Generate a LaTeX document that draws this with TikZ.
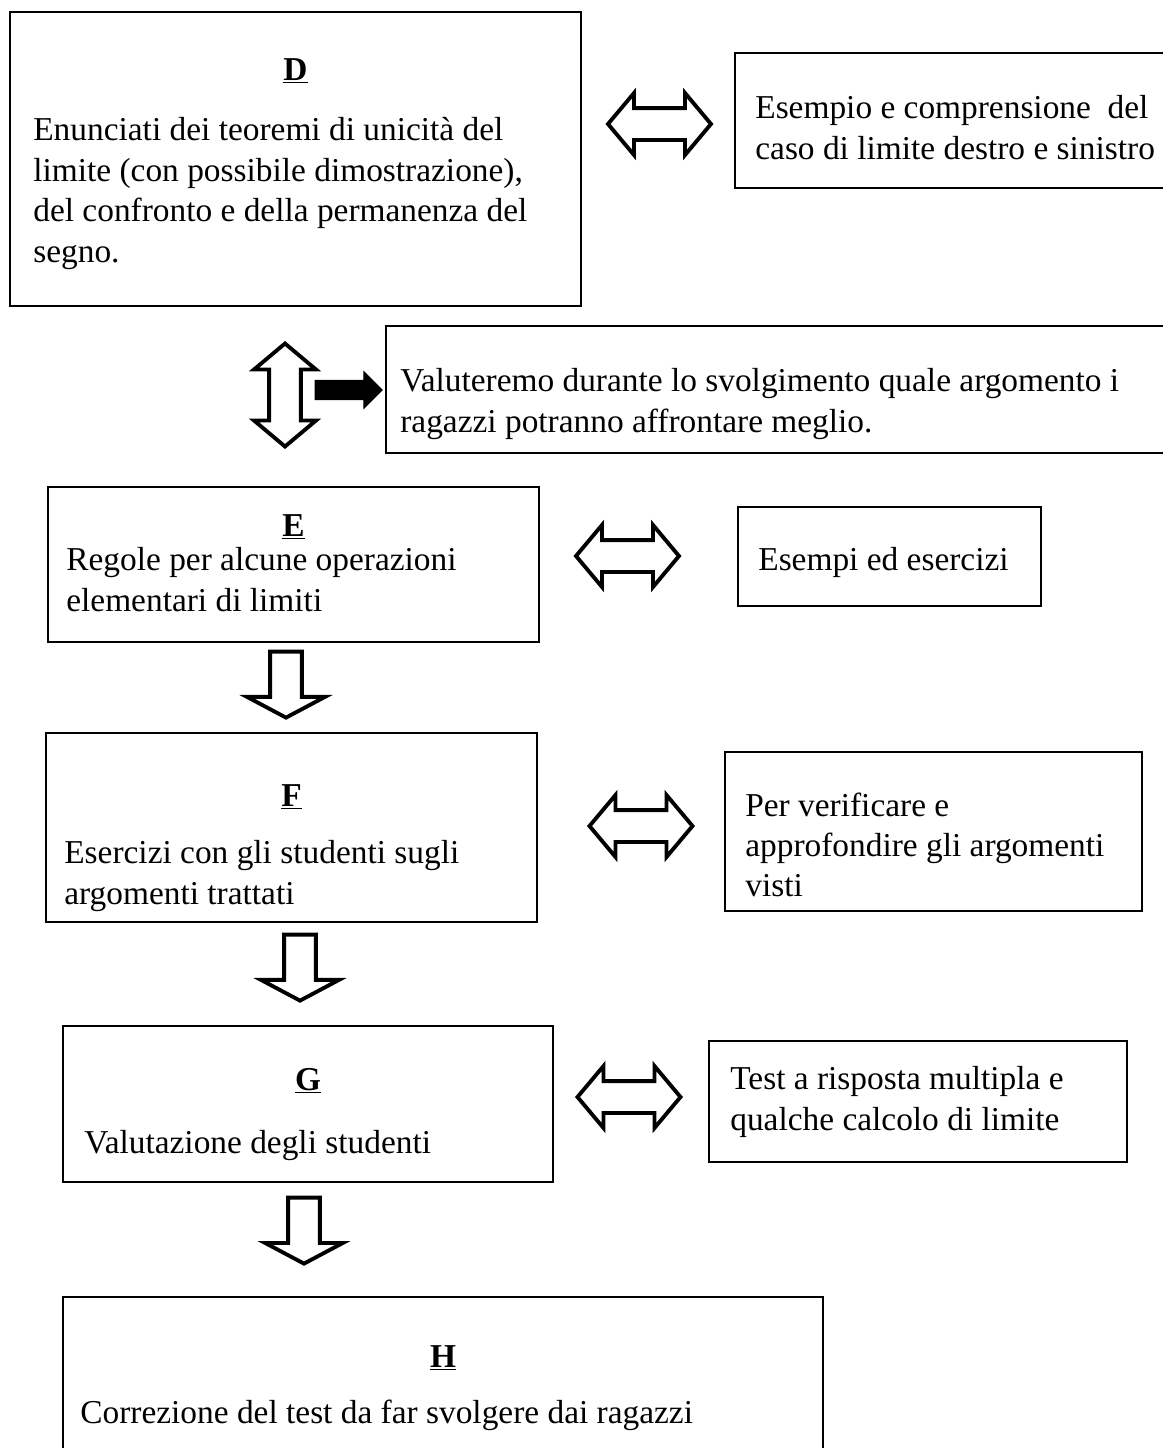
\documentclass[tikz,border=0pt]{standalone}
\usepackage{fontspec}
\setmainfont{Liberation Serif}
\usetikzlibrary{shapes.arrows, positioning, calc, fit}

\begin{document}
\begin{tikzpicture}[
        x=0.02cm, y=-0.02cm,
        box/.style={rectangle, draw, line width=1.1pt, inner sep=0pt},
        txt/.style={anchor=north west, inner sep=0pt, align=left, font=\fontsize{19}{23}\selectfont},
        title/.style={anchor=base, inner sep=0pt, font=\fontsize{19}{23}\selectfont\bfseries},
        scambio/.style={double arrow, draw, fill=white, line width=2.2pt, inner sep=0pt,
            text height=0.28cm, text depth=0.28cm, minimum height=2.06cm,
            double arrow head extend=0.3cm, double arrow tip angle=100, double arrow head indent=0pt},
        passo/.style={single arrow, draw, fill=white, line width=2.2pt, inner sep=0pt, rotate=-90, anchor=tip,
            text height=0.28cm, text depth=0.28cm, minimum height=1.32cm,
            single arrow head extend=0.46cm, single arrow tip angle=124, single arrow head indent=0pt}
    ]
        \useasboundingbox (0,0) rectangle (1163,1448);
        \fill[white] (0,0) rectangle (1163,1448);
        \clip (0,0) rectangle (1163,1448);

        % riquadri
        \node[box, fit={(10,12) (581,306)}] (teoremi) {};
        \node[box, fit={(735,53) (1185,188)}] (dx_sx) {};
        \node[box, fit={(386,326) (1185,453)}] (scelta) {};
        \node[box, fit={(48,487) (539,642)}] (regole) {};
        \node[box, fit={(738,507) (1041,606)}] (esempi) {};
        \node[box, fit={(46,733) (537,922)}] (esercizi) {};
        \node[box, fit={(725,752) (1142,911)}] (verifica) {};
        \node[box, fit={(63,1026) (553,1182)}] (valutazione) {};
        \node[box, fit={(709,1041) (1127,1162)}] (test) {};
        \node[box, fit={(63,1297) (823,1475)}] (correzione) {};

        \node[title] (teoremi_t) at ($(teoremi.north)+(0,69)$) {\underline{D}};
        \node[title] (regole_t) at ($(regole.north)+(0,50)$) {\underline{E}};
        \node[title] (esercizi_t) at ($(esercizi.north)+(0,74)$) {\underline{F}};
        \node[title] (valutazione_t) at ($(valutazione.north)+(0,65)$) {\underline{G}};
        \node[title] (correzione_t) at ($(correzione.north)+(0,71)$) {\underline{H}};

        \node[txt] (teoremi_txt) at (33,117.2) {Enunciati dei teoremi di unicità del\\limite (con possibile dimostrazione),\\del confronto e della permanenza del\\segno.};
        \node[txt] (dx_sx_txt) at (755,95.2) {Esempio e comprensione\ \ del\\caso di limite destro e sinistro};
        \node[txt] (scelta_txt) at (400,368.2) {Valuteremo durante lo svolgimento quale argomento i\\ragazzi potranno affrontare meglio.};
        \node[txt] (regole_txt) at (66,547.2) {Regole per alcune operazioni\\elementari di limiti};
        \node[txt] (esempi_txt) at (758,547.2) {Esempi ed esercizi};
        \node[txt] (esercizi_txt) at (64,840.2) {Esercizi con gli studenti sugli\\argomenti trattati};
        \node[txt] (verifica_txt) at (745,792.2) {Per verificare e\\approfondire gli argomenti\\visti};
        \node[txt] (valutazione_txt) at (84,1130.2) {Valutazione degli studenti};
        \node[txt] (test_txt) at (730,1066.2) {Test a risposta multipla e\\qualche calcolo di limite};
        \node[txt] (correzione_txt) at (80,1399.2) {Correzione del test da far svolgere dai ragazzi};

        % frecce
        \node[scambio] (s_d) at (659.5,124) {};
        \node[scambio, rotate=90] (s_v) at (285,395) {};
        \node[single arrow, draw, fill=black, line width=0.6pt, inner sep=0pt, anchor=tail,
            text height=0.18cm, text depth=0.18cm, minimum height=1.34cm,
            single arrow head extend=0.17cm] (verso) at (314.5,390) {};
        \node[scambio] (s_e) at (627.5,556) {};
        \node[scambio] (s_f) at (641,826) {};
        \node[scambio] (s_g) at (629,1097) {};
        \node[passo] (p_e) at (286,719.8) {};
        \node[passo] (p_f) at (300,1002.8) {};
        \node[passo] (p_g) at (304,1265.8) {};

    \end{tikzpicture}
\end{document}
